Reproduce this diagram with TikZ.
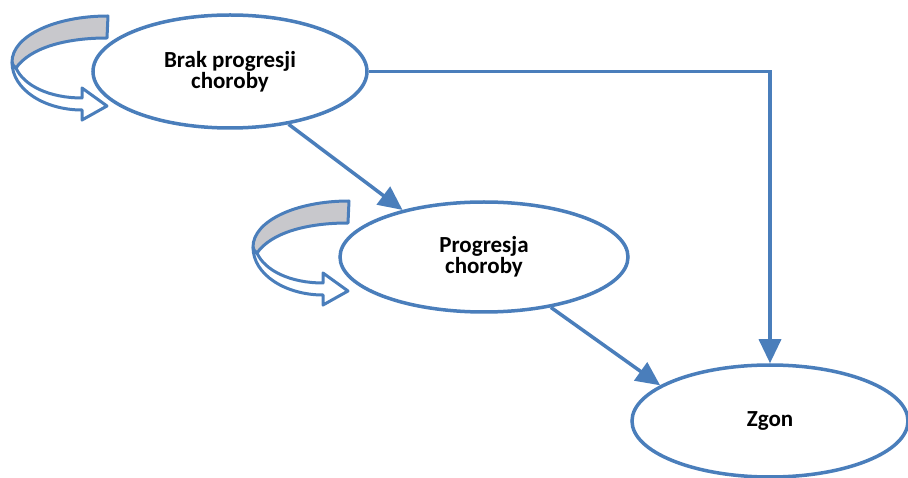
\documentclass[tikz,border=0pt]{standalone}
\usepackage{fontspec}
\setmainfont{Carlito}
\usetikzlibrary{shapes.geometric,arrows.meta}
\definecolor{edgeblue}{RGB}{74,126,187}
\definecolor{backgray}{RGB}{200,200,204}
\begin{document}
\begin{tikzpicture}[x=1pt,y=-1pt]
\tikzstyle{state} = [draw=edgeblue,line width=3.5pt,fill=white,ellipse,inner sep=0pt,
  align=center,font=\bfseries\fontsize{23}{17}\selectfont]
\tikzstyle{flow} = [draw=edgeblue,line width=3.5pt,-{Triangle[length=24pt,width=22pt]}]
\tikzstyle{band} = [draw=edgeblue,line width=3pt,line join=round]
\useasboundingbox (0,0) rectangle (908,478);
% self loops
\foreach \sx/\sy in {0/0,241/185}{
\begin{scope}[shift={(\sx,\sy)}]
\draw[band,fill=backgray] (108,16) .. controls (55,16) and (12,36) .. (12,62)
  .. controls (12,64) and (13,66) .. (16,68)
  .. controls (30,48) and (65,38) .. (107,38) -- cycle;
\draw[band,fill=white] (12,62) .. controls (12,90) and (45,110) .. (82,110)
  -- (82,120) -- (107,106) -- (82,88) -- (82,98)
  .. controls (50,98) and (24,86) .. (16,68)
  .. controls (13,66) and (12,64) .. (12,62) -- cycle;
\end{scope}}
% states
\node[state,minimum width=274pt,minimum height=113pt] (brak) at (230,71.5) {Brak progresji\\choroby};
\node[state,minimum width=288pt,minimum height=110pt] (prog) at (484,257) {Progresja\\choroby};
\node[state,minimum width=276pt,minimum height=112pt] (zgon) at (770,421) {Zgon};
% transitions
\draw[flow] (brak.-42) -- (prog.150);
\draw[flow] (prog.-37) -- (zgon.162);
\draw[flow] (brak.east) -| (zgon.north);
\end{tikzpicture}
\end{document}
